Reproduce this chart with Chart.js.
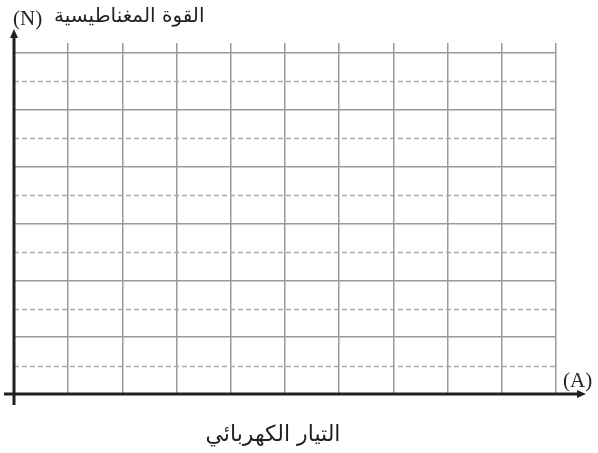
<!DOCTYPE html>
<html>
<head>
<meta charset="utf-8">
<script src="https://cdn.jsdelivr.net/npm/chart.js@4/dist/chart.umd.min.js"></script>
<style>
  html, body { margin: 0; padding: 0; background: #fff; }
  #wrap { width: 598px; height: 453px; }
</style>
</head>
<body>
<div id="wrap"><canvas id="grid-chart"></canvas></div>
<script>
// ticks of the empty grid
const xTicks = [0, 1, 2, 3, 4, 5, 6, 7, 8, 9, 10];
const yTicks = [0, 1, 2, 3, 4, 5, 6, 7, 8, 9, 10, 11, 12];
const seriesPoints = []; // the grid is empty, nothing plotted

const yLabelUnit = '(N)';
const yLabel = 'القوة المغناطيسية';
const xLabelUnit = '(A)';
const xLabel = 'التيار الكهربائي';

const axisColor = '#231f20';
const isMinor = (v) => v % 2 === 1;

function arrowHead(ctx, x, y, dir) {
    ctx.beginPath();
    if (dir === 'up') {
        ctx.moveTo(x, y);
        ctx.lineTo(x - 4, y + 9);
        ctx.lineTo(x + 4, y + 9);
    } else {
        ctx.moveTo(x, y);
        ctx.lineTo(x - 9, y - 4);
        ctx.lineTo(x - 9, y + 4);
    }
    ctx.closePath();
    ctx.fill();
}

// dashed half-step lines (grid option has no dash in v4)
const dashPlugin = {
    id: 'dashPlugin',
    beforeDatasetsDraw(chart) {
        const ctx = chart.ctx;
        const ys = chart.scales.y;
        const area = chart.chartArea;
        ctx.save();
        ctx.strokeStyle = '#a8a8a8';
        ctx.lineWidth = 1.3;
        ctx.setLineDash([5, 3]);
        yTicks.filter(isMinor).forEach(v => {
            const y = Math.round(ys.getPixelForValue(v)) + 0.5;
            ctx.beginPath();
            ctx.moveTo(area.left, y);
            ctx.lineTo(area.right, y);
            ctx.stroke();
        });
        ctx.restore();
    }
};

// axes with arrows and the labels
const axesPlugin = {
    id: 'axesPlugin',
    afterDraw(chart) {
        const ctx = chart.ctx;
        const xs = chart.scales.x;
        const ys = chart.scales.y;
        const x0 = xs.getPixelForValue(0);
        const y0 = ys.getPixelForValue(0);
        const area = chart.chartArea;

        ctx.save();
        ctx.strokeStyle = axisColor;
        ctx.fillStyle = axisColor;
        ctx.lineWidth = 3;

        ctx.beginPath();
        ctx.moveTo(x0, y0 + 11);
        ctx.lineTo(x0, area.top - 6);
        ctx.stroke();
        arrowHead(ctx, x0, area.top - 14, 'up');

        ctx.beginPath();
        ctx.moveTo(x0 - 10, y0);
        ctx.lineTo(area.right + 22, y0);
        ctx.stroke();
        arrowHead(ctx, area.right + 30, y0, 'right');

        ctx.fillStyle = '#231f20';
        ctx.textBaseline = 'middle';
        ctx.textAlign = 'left';
        ctx.font = '21px "Liberation Serif"';
        ctx.fillText(yLabelUnit, 13, 19);
        ctx.font = '20px "DejaVu Sans", "Liberation Sans"';
        ctx.fillText(yLabel, 54, 17);

        ctx.font = '21px "Liberation Serif"';
        ctx.fillText(xLabelUnit, 563, 381);

        ctx.textAlign = 'center';
        ctx.font = '22px "DejaVu Sans", "Liberation Sans"';
        ctx.fillText(xLabel, 273, 435);
        ctx.restore();
    }
};

const ctx = document.getElementById('grid-chart').getContext('2d');
new Chart(ctx, {
    type: 'scatter',
    data: {
        datasets: [{ data: seriesPoints, showLine: false }]
    },
    options: {
        responsive: true,
        maintainAspectRatio: false,
        animation: false,
        layout: { padding: { left: 14, right: 42, top: 43, bottom: 59 } },
        plugins: { legend: { display: false }, tooltip: { enabled: false } },
        scales: {
            x: {
                type: 'linear',
                min: xTicks[0],
                max: xTicks[xTicks.length - 1],
                afterBuildTicks: (s) => { s.ticks = xTicks.map(v => ({ value: v })); },
                ticks: { display: false },
                border: { display: false },
                grid: { color: '#9a9a9a', lineWidth: 1.5, drawTicks: false }
            },
            y: {
                type: 'linear',
                min: 0,
                max: 12.35,
                afterBuildTicks: (s) => { s.ticks = yTicks.map(v => ({ value: v })); },
                ticks: { display: false },
                border: { display: false },
                grid: {
                    drawTicks: false,
                    color: (c) => (c.tick && isMinor(c.tick.value)) ? 'rgba(0,0,0,0)' : '#9a9a9a',
                    lineWidth: 1.5
                }
            }
        }
    },
    plugins: [dashPlugin, axesPlugin]
});
</script>
</body>
</html>
